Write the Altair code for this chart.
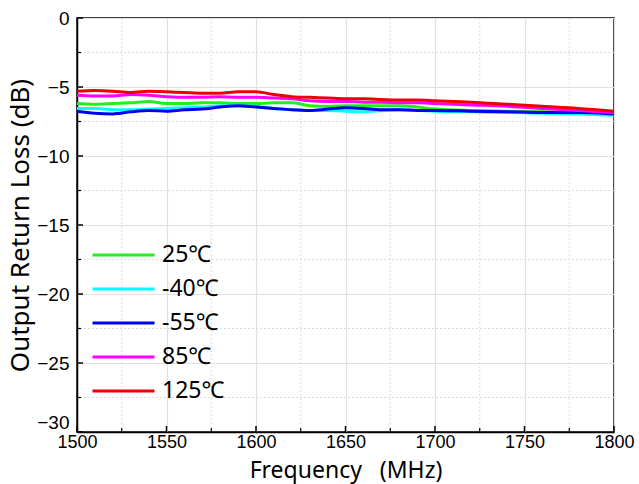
import altair as alt
import pandas as pd

freq = [1500, 1510, 1520, 1530, 1540, 1550, 1560, 1570, 1580, 1590, 1600, 1610, 1620,
        1630, 1640, 1650, 1660, 1670, 1680, 1690, 1700, 1720, 1740, 1760, 1780, 1800]

s25 = [-6.2, -6.25, -6.2, -6.15, -6.05, -6.2, -6.2, -6.15, -6.15, -6.2, -6.2, -6.15, -6.15,
       -6.35, -6.4, -6.35, -6.35, -6.35, -6.35, -6.45, -6.6, -6.7, -6.75, -6.8, -6.85, -6.95]
s_40 = [-6.55, -6.55, -6.65, -6.65, -6.6, -6.55, -6.5, -6.45, -6.35, -6.35, -6.4, -6.55, -6.65,
        -6.7, -6.7, -6.75, -6.8, -6.7, -6.65, -6.7, -6.75, -6.8, -6.85, -6.9, -6.95, -7.05]
s_55 = [-6.75, -6.9, -6.95, -6.8, -6.7, -6.75, -6.65, -6.6, -6.45, -6.35, -6.45, -6.55, -6.65,
        -6.7, -6.6, -6.5, -6.55, -6.65, -6.65, -6.7, -6.7, -6.75, -6.8, -6.85, -6.85, -6.95]
s85 = [-5.6, -5.65, -5.65, -5.55, -5.6, -5.7, -5.75, -5.75, -5.7, -5.75, -5.75, -5.8, -5.85,
       -6.0, -6.05, -6.05, -6.1, -6.1, -6.15, -6.15, -6.2, -6.3, -6.4, -6.55, -6.7, -6.85]
s125 = [-5.3, -5.25, -5.3, -5.4, -5.3, -5.35, -5.4, -5.45, -5.45, -5.35, -5.35, -5.55, -5.7,
        -5.75, -5.8, -5.85, -5.85, -5.9, -5.95, -5.95, -6.0, -6.1, -6.25, -6.4, -6.55, -6.75]

labels = ["25℃", "-40℃", "-55℃", "85℃", "125℃"]
colors = ["#22ee22", "#00ffff", "#0000ee", "#ff00ff", "#ee0000"]
series = [s25, s_40, s_55, s85, s125]

x_major = [1500, 1550, 1600, 1650, 1700, 1750, 1800]
x_minor = [1525, 1575, 1625, 1675, 1725, 1775]
y_major = [0, -5, -10, -15, -20, -25, -30]
y_minor = [-2.5, -7.5, -12.5, -17.5, -22.5, -27.5]

rows = []
for lab, vals in zip(labels, series):
    for f, v in zip(freq, vals):
        rows.append({"f": f, "v": v, "s": lab, "o": labels.index(lab)})
df = pd.DataFrame(rows)

xs = alt.Scale(domain=[1500, 1800], nice=False, zero=False)
ys = alt.Scale(domain=[-30, 0], nice=False)

W, H = 537, 414

xminor_df = pd.DataFrame({"x": x_minor})
yminor_df = pd.DataFrame({"y": y_minor})
xmajor_df = pd.DataFrame({"x": x_major})
ymajor_df = pd.DataFrame({"y": y_major})

grid_x_minor = alt.Chart(xminor_df).mark_rule(color="#dddddd", strokeDash=[2, 2], strokeWidth=1).encode(
    x=alt.X("x:Q", scale=xs))
grid_y_minor = alt.Chart(yminor_df).mark_rule(color="#dddddd", strokeDash=[2, 2], strokeWidth=1).encode(
    y=alt.Y("y:Q", scale=ys))

tick_x_major = alt.Chart(xmajor_df).mark_rule(color="black", strokeWidth=1.5).encode(
    x=alt.X("x:Q", scale=xs), y=alt.value(H), y2=alt.value(H - 6))
tick_x_minor = alt.Chart(xminor_df).mark_rule(color="black", strokeWidth=1.2).encode(
    x=alt.X("x:Q", scale=xs), y=alt.value(H), y2=alt.value(H - 4))
tick_y_major = alt.Chart(ymajor_df).mark_rule(color="black", strokeWidth=1.5).encode(
    y=alt.Y("y:Q", scale=ys), x=alt.value(0), x2=alt.value(6))
tick_y_minor = alt.Chart(yminor_df).mark_rule(color="black", strokeWidth=1.2).encode(
    y=alt.Y("y:Q", scale=ys), x=alt.value(0), x2=alt.value(4))

lines = alt.Chart(df).mark_line(strokeWidth=3, interpolate="monotone").encode(
    x=alt.X("f:Q", scale=xs, title="Frequency\u00a0\u00a0\u00a0(MHz)",
            axis=alt.Axis(values=x_major, grid=True, gridColor="#e0e0e0", gridWidth=1.2,
                          tickSize=0, labelPadding=1, format="d", labelFlush=False,
                          labelOverlap=False, labelFontSize=18,
                          titlePadding=8, titleFontSize=23)),
    y=alt.Y("v:Q", scale=ys, title="Output Return Loss (dB)",
            axis=alt.Axis(values=y_major, grid=True, gridColor="#e0e0e0", gridWidth=1.2,
                          tickSize=0, labelPadding=8, labelFontSize=19,
                          labelBaseline={"condition": {"test": "datum.value == -30", "value": "bottom"},
                                         "value": "middle"},
                          titlePadding=3, titleFontSize=26)),
    color=alt.Color("s:N", scale=alt.Scale(domain=labels, range=colors),
                    legend=alt.Legend(title=None, orient="none", legendX=14, legendY=220,
                                      symbolType="stroke", symbolSize=3844, symbolStrokeWidth=3,
                                      clipHeight=34, rowPadding=0, labelFontSize=23,
                                      labelFont="Noto Sans", labelColor="black", labelOffset=6,
                                      padding=0)),
    order=alt.Order("o:Q"),
)

chart = alt.layer(grid_x_minor, grid_y_minor, lines, tick_x_major, tick_x_minor,
                  tick_y_major, tick_y_minor).properties(
    width=W, height=H,
    autosize=alt.AutoSizeParams(type="none"),
    padding={"left": 77, "top": 18, "right": 25, "bottom": 52},
).configure_view(stroke="black", strokeWidth=1.5).configure_axis(
    domainColor="black", domainWidth=1.5,
    labelFont="Liberation Sans", labelColor="black",
    titleFont="Noto Sans", titleColor="black", titleFontWeight="normal",
)

chart.save("out.html", embed_options={"renderer": "svg", "actions": False})
